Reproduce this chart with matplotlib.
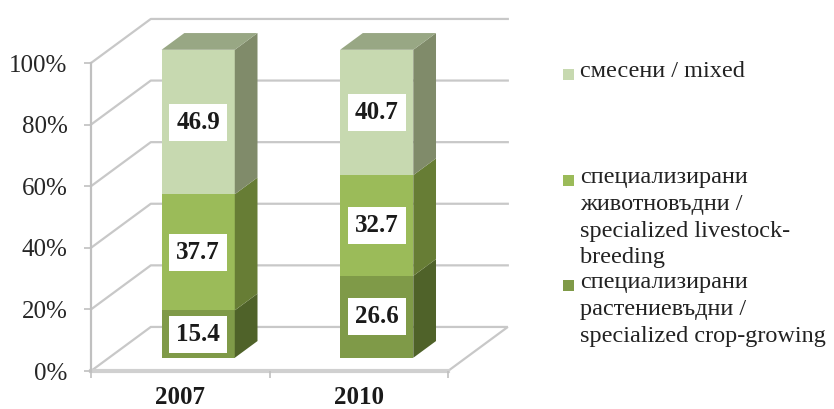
import matplotlib
matplotlib.use("Agg")
import matplotlib.pyplot as plt
from matplotlib.patches import Polygon, Rectangle

# data (percent shares, stacked bottom -> top)
years = ["2007", "2010"]
crop = [15.4, 26.6]
livestock = [37.7, 32.7]
mixed = [46.9, 40.7]
series = [crop, livestock, mixed]
legend_labels = ["смесени / mixed",
                 "специализирани\nживотновъдни /\nspecialized livestock-\nbreeding",
                 "специализирани\nрастениевъдни /\nspecialized crop-growing"]
yticks = [0, 20, 40, 60, 80, 100]

# face colours: front, side, top
front_cols = ["#7f9a48", "#9bbb59", "#c7d9b0"]
side_cols = ["#4f6229", "#677d35", "#808b6a"]
top_cols = ["#5f7733", "#7d964a", "#98a784"]

plt.rcParams['font.family'] = ['Liberation Serif', 'DejaVu Serif']

W, H = 834, 409
fig = plt.figure(figsize=(W / 100, H / 100), dpi=100)
ax = fig.add_axes([91 / W, (H - 371) / H, (448 - 91) / W, (371 - 63) / H])
ax.set_xlim(-0.5, 1.5)
ax.set_ylim(0, 100)

# fake 3d depth offsets (full depth) in data units
DX = 0.335
DY = 14.3
grid_col = "#c8c8c8"

def proj(x, y, d):
    return (x + d * DX, y + d * DY)

# walls / grid
for y in yticks:
    if y == 0:
        continue
    p0 = proj(-0.5, y, 0)
    p1 = proj(-0.5, y, 1)
    p2 = proj(1.5, y, 1)
    ax.plot([p0[0], p1[0], p2[0]], [p0[1], p1[1], p2[1]], color=grid_col,
            lw=1.6, clip_on=False, zorder=1)
# floor
floor = [proj(-0.5, 0, 0), proj(1.5, 0, 0), proj(1.5, 0, 1), proj(-0.5, 0, 1)]
ax.add_patch(Polygon(floor, closed=True, facecolor="white", edgecolor=grid_col,
                     lw=1.6, clip_on=False, zorder=1))
ax.plot([-0.5, 1.5], [0, 0], color="#d0d0d0", lw=3, clip_on=False, zorder=1.5)

# bars
d0, d1 = 0.30, 0.68
hw = 0.205
for i in range(len(years)):
    bottom = 0
    for k, vals in enumerate(series):
        v = vals[i]
        xl, xr = i - hw, i + hw
        fl = proj(xl, bottom, d0)
        ax.add_patch(Rectangle(fl, 2 * hw, v, facecolor=front_cols[k],
                               edgecolor="none", clip_on=False, zorder=3))
        side = [proj(xr, bottom, d0), proj(xr, bottom, d1),
                proj(xr, bottom + v, d1), proj(xr, bottom + v, d0)]
        ax.add_patch(Polygon(side, closed=True, facecolor=side_cols[k],
                             edgecolor="none", clip_on=False, zorder=3))
        if k == len(series) - 1:
            top = [proj(xl, bottom + v, d0), proj(xr, bottom + v, d0),
                   proj(xr, bottom + v, d1), proj(xl, bottom + v, d1)]
            ax.add_patch(Polygon(top, closed=True, facecolor=top_cols[k],
                                 edgecolor="none", clip_on=False, zorder=3))
        tx, ty = proj(i, bottom + v / 2, d0)
        ax.text(tx, ty, f"{v:.1f}", ha="center", va="center", fontsize=18,
                fontweight="bold", color="#1a1a1a", zorder=5,
                bbox=dict(boxstyle="square,pad=0.28", facecolor="white",
                          edgecolor="none"))
        bottom += v

# axes styling
for s in ["top", "right"]:
    ax.spines[s].set_visible(False)
ax.spines["left"].set_color("#c0c0c0")
ax.spines["left"].set_linewidth(1.6)
ax.spines["bottom"].set_visible(False)
ax.patch.set_alpha(0)
ax.set_yticks(yticks)
ax.set_yticklabels([f"{t}%" for t in yticks])
ax.tick_params(axis="y", length=5, width=1.2, color="#c0c0c0", pad=12,
               labelsize=18, labelcolor="#262626")
ax.set_xticks(range(len(years)))
ax.set_xticklabels(years, fontweight="bold")
ax.tick_params(axis="x", length=0, pad=11, labelsize=18, labelcolor="#1a1a1a")
ax.set_xticks([-0.5, 0.5, 1.5], minor=True)
ax.tick_params(axis="x", which="minor", length=5, width=1.2, color="#c0c0c0")

# legend
leg_y = [74, 180, 285]
order = [2, 1, 0]
for j, yy in enumerate(leg_y):
    k = order[j]
    fig.patches.append(Rectangle((563 / W, 1 - (yy + 6) / H), 11 / W, 11 / H,
                                 transform=fig.transFigure,
                                 facecolor=front_cols[k], edgecolor="none"))
    fig.text(580 / W, 1 - (yy - 13) / H, legend_labels[j], ha="left", va="top",
             fontsize=17.5, color="#222222", linespacing=1.36)

fig.savefig("out.png", dpi=100)
